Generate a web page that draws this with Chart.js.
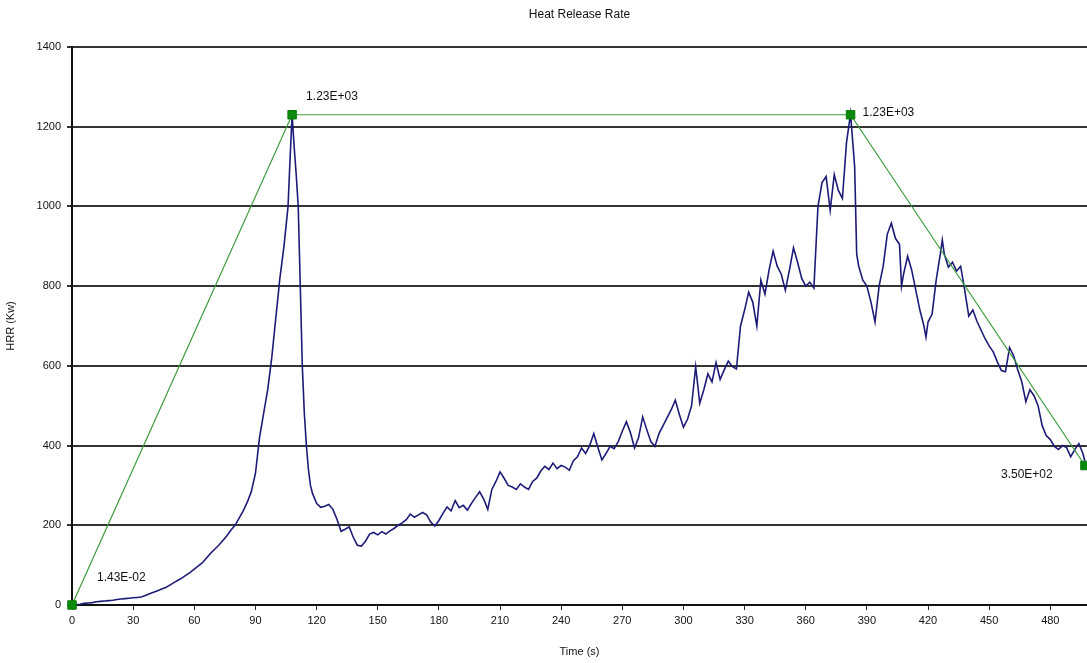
<!DOCTYPE html>
<html>
<head>
<meta charset="utf-8">
<title>Heat Release Rate</title>
<script src="https://cdn.jsdelivr.net/npm/chart.js@4.4.1/dist/chart.umd.min.js"></script>
<style>
  body { margin: 0; background: #fff; }
  #wrap { width: 1087px; height: 663px; }
</style>
</head>
<body>
<div id="wrap"><canvas id="myChart" width="1087" height="663"></canvas></div>
<script>
// measured HRR curve (time in s, HRR in kW)
var times = [0,2,4,6,8,10,12,14,16,18,20,22,24,26,28,30,32,34,36,38,40,42,44,46,48,50,52,54,56,58,60,62,64,66,68,70,72,74,76,78,80,82,84,86,88,90,92,94,96,98,100,102,104,106,107,108,109,110,111,112,113,114,115,116,117,118,120,122,124,126,128,130,132,134,136,138,140,142,144,146,148,150,152,154,156,158,160,162,164,166,168,170,172,174,176,178,180,182,184,186,188,190,192,194,196,198,200,202,204,206,208,210,212,214,216,218,220,222,224,226,228,230,232,234,236,238,240,242,244,246,248,250,252,254,256,258,260,262,264,266,268,270,272,274,276,278,280,282,284,286,288,290,292,294,296,298,300,302,304,306,308,310,312,314,316,318,320,322,324,326,328,330,332,334,336,338,340,342,344,346,348,350,352,354,356,358,360,362,364,366,368,370,372,374,376,378,380,382,384,385,386,388,390,392,394,396,398,400,402,404,406,407,408,410,412,414,416,418,419,420,422,424,426,427,428,430,432,434,436,438,440,442,444,446,448,450,452,454,456,458,460,462,464,466,468,470,472,474,476,478,480,482,484,486,488,490,492,494,496,497];
var hrr = [0,1,2,4,5,6,8,9,10,11,12,14,15,16,17,18,19,20,24,28,32,36,40,44,50,56,62,68,75,82,90,98,106,118,130,140,150,162,174,188,200,218,236,258,285,330,420,480,540,620,720,820,900,1000,1120,1230,1150,1080,1000,800,600,480,400,340,300,280,255,245,248,252,240,215,185,190,196,170,150,148,160,178,182,176,184,178,186,192,200,206,214,228,220,226,232,226,208,198,212,230,246,236,262,244,250,238,255,270,284,266,240,290,310,334,318,300,296,290,304,296,290,310,318,336,348,340,356,342,350,346,338,362,372,394,380,400,430,396,364,380,398,392,410,436,460,432,394,420,472,440,410,398,430,450,470,490,514,478,446,466,500,598,506,540,580,560,608,566,590,612,598,592,700,740,785,760,700,815,780,840,888,850,830,790,840,896,860,820,800,810,795,1000,1060,1075,990,1080,1040,1020,1160,1232,1100,880,850,815,800,760,710,800,850,930,958,920,905,800,830,875,840,790,740,700,672,710,730,815,880,916,880,848,860,838,850,790,725,740,712,690,668,650,635,610,588,585,646,625,590,560,510,540,525,500,450,425,415,398,390,400,395,372,390,405,380,360];

// trend markers with their labels
var markTimes = [0, 108, 382, 497];
var markValues = [0.0143, 1230, 1230, 350];
var markLabels = ['1.43E-02', '1.23E+03', '1.23E+03', '3.50E+02'];
var labelOffsets = [[25, -27], [14, -18], [12, -2], [-84, 9]];

var yTicks = [0, 200, 400, 600, 800, 1000, 1200, 1400];

var labelPlugin = {
  id: 'markLabels',
  afterDatasetsDraw: function(chart) {
    var ctx = chart.ctx;
    var meta = chart.getDatasetMeta(0);
    ctx.save();
    ctx.font = '12px "Liberation Sans", Arial, sans-serif';
    ctx.textBaseline = 'middle';
    ctx.textAlign = 'left';
    meta.data.forEach(function(pt, i) {
      var x = pt.x + labelOffsets[i][0], y = pt.y + labelOffsets[i][1];
      var w = ctx.measureText(markLabels[i]).width;
      ctx.fillStyle = '#fff';
      ctx.fillRect(x - 4, y - 12, w + 8, 24);
      ctx.fillStyle = '#111';
      ctx.fillText(markLabels[i], x, y);
    });
    // chart title centred over the plot area
    var a = chart.chartArea;
    ctx.textAlign = 'center';
    ctx.fillText('Heat Release Rate', (a.left + a.right) / 2, 15);
    ctx.restore();
  }
};

var ctx = document.getElementById('myChart').getContext('2d');
var chart = new Chart(ctx, {
  type: 'line',
  data: {
    datasets: [{
      data: markTimes.map(function(t, i) { return {x: t, y: markValues[i]}; }),
      borderColor: '#3b9a3b',
      borderWidth: 1.2,
      backgroundColor: '#0a8a0a',
      pointStyle: 'rect',
      pointRadius: 6,
      pointBorderColor: '#0a7a0a',
      pointBorderWidth: 1,
      clip: false
    }, {
      data: times.map(function(t, i) { return {x: t, y: hrr[i]}; }),
      borderColor: '#1c1c78',
      borderWidth: 1.6,
      pointRadius: 0,
      tension: 0
    }]
  },
  options: {
    responsive: false,
    animation: false,
    layout: { autoPadding: false, padding: { top: 47, right: 0, left: 0, bottom: 0 } },
    plugins: {
      legend: { display: false },
      title: { display: false },
      tooltip: { enabled: false }
    },
    scales: {
      x: {
        type: 'linear',
        min: 0,
        max: 498,
        afterFit: function(s) { s.height = 58; },
        border: { color: '#111', width: 2 },
        grid: { drawOnChartArea: false, drawTicks: true, tickLength: 5, color: '#222' },
        ticks: {
          stepSize: 30,
          includeBounds: false,
          color: '#111',
          font: { family: '"Liberation Sans", Arial', size: 11 },
          padding: 4,
          maxRotation: 0
        },
        title: {
          display: true,
          text: 'Time (s)',
          color: '#111',
          font: { family: '"Liberation Sans", Arial', size: 11 },
          padding: { top: 2 }
        }
      },
      y: {
        min: 0,
        max: 1400,
        afterFit: function(s) { s.width = 72; },
        afterBuildTicks: function(s) { s.ticks = yTicks.map(function(v) { return {value: v}; }); },
        border: { color: '#111', width: 2 },
        grid: { color: '#333', lineWidth: 2, tickLength: 5, drawTicks: true },
        ticks: {
          color: '#111',
          font: { family: '"Liberation Sans", Arial', size: 11 },
          padding: 6,
          callback: function(v) { return String(v); }
        },
        title: {
          display: true,
          text: 'HRR (Kw)',
          color: '#111',
          font: { family: '"Liberation Sans", Arial', size: 11 },
          padding: { bottom: 4 }
        }
      }
    }
  },
  plugins: [labelPlugin]
});
</script>
</body>
</html>
